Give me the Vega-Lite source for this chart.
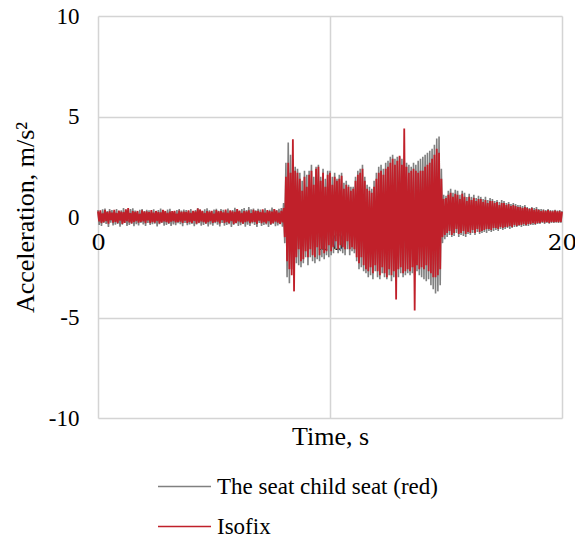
{
"$schema": "https://vega.github.io/schema/vega-lite/v6.json",
"width": 464, "height": 402,
"autosize": {"type": "none"},
"padding": {"left": 98, "top": 16, "right": 13, "bottom": 120},
"background": "white",
"config": {"view": {"stroke": null}, "font": "serif"},
"data": {"values": [
{"t":0,"g":0.35,"r":0.28},{"t":0.05,"g":-0.4,"r":-0.22},{"t":0.1,"g":0.25,"r":0.33},{"t":0.15,"g":-0.45,"r":-0.3},{"t":0.2,"g":0.38,"r":0.18},{"t":0.25,"g":-0.3,"r":-0.26},{"t":0.3,"g":0.42,"r":0.35},{"t":0.35,"g":-0.35,"r":-0.2},{"t":0.4,"g":0.3,"r":0.25},{"t":0.45,"g":-0.5,"r":-0.33},
{"t":0.5,"g":0.4,"r":0.3},{"t":0.55,"g":-0.28,"r":-0.15},{"t":0.6,"g":0.35,"r":0.22},{"t":0.65,"g":-0.42,"r":-0.28},{"t":0.7,"g":0.3,"r":0.36},{"t":0.75,"g":-0.38,"r":-0.24},{"t":0.8,"g":0.4,"r":0.2},{"t":0.85,"g":-0.35,"r":-0.3},{"t":0.9,"g":0.28,"r":0.32},{"t":0.95,"g":-0.48,"r":-0.18},
{"t":1,"g":0.33,"r":0.27},{"t":1.05,"g":-0.38,"r":-0.34},{"t":1.1,"g":0.45,"r":0.24},{"t":1.15,"g":-0.3,"r":-0.29},{"t":1.2,"g":0.36,"r":0.38},{"t":1.25,"g":-0.44,"r":-0.21},{"t":1.3,"g":0.3,"r":0.45},{"t":1.35,"g":-0.4,"r":-0.27},{"t":1.4,"g":0.39,"r":0.19},{"t":1.45,"g":-0.33,"r":-0.32},
{"t":1.5,"g":0.43,"r":0.29},{"t":1.55,"g":-0.46,"r":-0.25},{"t":1.6,"g":0.32,"r":0.26},{"t":1.65,"g":-0.36,"r":-0.2},{"t":1.7,"g":0.27,"r":0.3},{"t":1.75,"g":-0.42,"r":-0.28},{"t":1.8,"g":0.36,"r":0.16},{"t":1.85,"g":-0.3,"r":-0.24},{"t":1.9,"g":0.4,"r":0.33},{"t":1.95,"g":-0.37,"r":-0.22},
{"t":2,"g":0.3,"r":0.27},{"t":2.05,"g":-0.45,"r":-0.31},{"t":2.1,"g":0.36,"r":0.28},{"t":2.15,"g":-0.3,"r":-0.17},{"t":2.2,"g":0.33,"r":0.24},{"t":2.25,"g":-0.4,"r":-0.3},{"t":2.3,"g":0.28,"r":0.34},{"t":2.35,"g":-0.36,"r":-0.26},{"t":2.4,"g":0.38,"r":0.22},{"t":2.45,"g":-0.33,"r":-0.28},
{"t":2.5,"g":0.3,"r":0.3},{"t":2.55,"g":-0.47,"r":-0.2},{"t":2.6,"g":0.35,"r":0.25},{"t":2.65,"g":-0.36,"r":-0.32},{"t":2.7,"g":0.42,"r":0.23},{"t":2.75,"g":-0.29,"r":-0.27},{"t":2.8,"g":0.34,"r":0.36},{"t":2.85,"g":-0.43,"r":-0.22},{"t":2.9,"g":0.28,"r":0.3},{"t":2.95,"g":-0.39,"r":-0.25},
{"t":3,"g":0.37,"r":0.21},{"t":3.05,"g":-0.34,"r":-0.31},{"t":3.1,"g":0.41,"r":0.27},{"t":3.15,"g":-0.45,"r":-0.23},{"t":3.2,"g":0.3,"r":0.29},{"t":3.25,"g":-0.37,"r":-0.21},{"t":3.3,"g":0.26,"r":0.31},{"t":3.35,"g":-0.41,"r":-0.27},{"t":3.4,"g":0.35,"r":0.17},{"t":3.45,"g":-0.31,"r":-0.25},
{"t":3.5,"g":0.39,"r":0.32},{"t":3.55,"g":-0.36,"r":-0.23},{"t":3.6,"g":0.32,"r":0.26},{"t":3.65,"g":-0.46,"r":-0.3},{"t":3.7,"g":0.37,"r":0.27},{"t":3.75,"g":-0.29,"r":-0.18},{"t":3.8,"g":0.34,"r":0.25},{"t":3.85,"g":-0.41,"r":-0.29},{"t":3.9,"g":0.29,"r":0.33},{"t":3.95,"g":-0.37,"r":-0.25},
{"t":4,"g":0.4,"r":0.21},{"t":4.05,"g":-0.34,"r":-0.29},{"t":4.1,"g":0.3,"r":0.31},{"t":4.15,"g":-0.46,"r":-0.19},{"t":4.2,"g":0.35,"r":0.28},{"t":4.25,"g":-0.37,"r":-0.33},{"t":4.3,"g":0.44,"r":0.42},{"t":4.35,"g":-0.31,"r":-0.28},{"t":4.4,"g":0.37,"r":0.37},{"t":4.45,"g":-0.43,"r":-0.22},
{"t":4.5,"g":0.31,"r":0.3},{"t":4.55,"g":-0.39,"r":-0.26},{"t":4.6,"g":0.38,"r":0.2},{"t":4.65,"g":-0.34,"r":-0.32},{"t":4.7,"g":0.43,"r":0.3},{"t":4.75,"g":-0.47,"r":-0.26},{"t":4.8,"g":0.33,"r":0.27},{"t":4.85,"g":-0.37,"r":-0.21},{"t":4.9,"g":0.28,"r":0.31},{"t":4.95,"g":-0.43,"r":-0.29},
{"t":5,"g":0.37,"r":0.17},{"t":5.05,"g":-0.31,"r":-0.25},{"t":5.1,"g":0.41,"r":0.34},{"t":5.15,"g":-0.38,"r":-0.23},{"t":5.2,"g":0.31,"r":0.28},{"t":5.25,"g":-0.47,"r":-0.32},{"t":5.3,"g":0.39,"r":0.29},{"t":5.35,"g":-0.29,"r":-0.16},{"t":5.4,"g":0.36,"r":0.23},{"t":5.45,"g":-0.43,"r":-0.29},
{"t":5.5,"g":0.31,"r":0.37},{"t":5.55,"g":-0.39,"r":-0.25},{"t":5.6,"g":0.42,"r":0.21},{"t":5.65,"g":-0.36,"r":-0.31},{"t":5.7,"g":0.29,"r":0.33},{"t":5.75,"g":-0.49,"r":-0.2},{"t":5.8,"g":0.34,"r":0.28},{"t":5.85,"g":-0.39,"r":-0.35},{"t":5.9,"g":0.46,"r":0.26},{"t":5.95,"g":-0.32,"r":-0.3},
{"t":6,"g":0.38,"r":0.39},{"t":6.05,"g":-0.45,"r":-0.22},{"t":6.1,"g":0.32,"r":0.31},{"t":6.15,"g":-0.41,"r":-0.27},{"t":6.2,"g":0.4,"r":0.21},{"t":6.25,"g":-0.35,"r":-0.33},{"t":6.3,"g":0.44,"r":0.3},{"t":6.35,"g":-0.48,"r":-0.26},{"t":6.4,"g":0.34,"r":0.28},{"t":6.45,"g":-0.38,"r":-0.22},
{"t":6.5,"g":0.5,"r":0.33},{"t":6.55,"g":-0.44,"r":-0.3},{"t":6.6,"g":0.38,"r":0.19},{"t":6.65,"g":-0.32,"r":-0.26},{"t":6.7,"g":0.42,"r":0.36},{"t":6.75,"g":-0.39,"r":-0.24},{"t":6.8,"g":0.33,"r":0.29},{"t":6.85,"g":-0.5,"r":-0.35},{"t":6.9,"g":0.41,"r":0.31},{"t":6.95,"g":-0.3,"r":-0.18},
{"t":7,"g":0.37,"r":0.25},{"t":7.05,"g":-0.44,"r":-0.31},{"t":7.1,"g":0.32,"r":0.38},{"t":7.15,"g":-0.4,"r":-0.26},{"t":7.2,"g":0.43,"r":0.22},{"t":7.25,"g":-0.37,"r":-0.32},{"t":7.3,"g":0.31,"r":0.34},{"t":7.35,"g":-0.5,"r":-0.21},{"t":7.4,"g":0.36,"r":0.29},{"t":7.45,"g":-0.4,"r":-0.36},
{"t":7.5,"g":0.47,"r":0.27},{"t":7.55,"g":-0.33,"r":-0.31},{"t":7.6,"g":0.39,"r":0.4},{"t":7.65,"g":-0.46,"r":-0.23},{"t":7.7,"g":0.34,"r":0.32},{"t":7.75,"g":-0.42,"r":-0.28},{"t":7.8,"g":0.41,"r":0.22},{"t":7.85,"g":-0.36,"r":-0.34},{"t":7.9,"g":0.45,"r":0.31},{"t":7.95,"g":-0.48,"r":-0.27},
{"t":8,"g":0.7,"r":0.45},{"t":8.05,"g":-1.3,"r":-1.0},{"t":8.1,"g":2.7,"r":2.0},{"t":8.15,"g":-3.0,"r":-2.2},{"t":8.2,"g":3.7,"r":2.7},{"t":8.25,"g":-3.3,"r":-2.6},{"t":8.3,"g":3.1,"r":2.2},{"t":8.35,"g":-2.6,"r":-2.9},{"t":8.4,"g":2.9,"r":3.87},{"t":8.45,"g":-2.8,"r":-3.7},
{"t":8.5,"g":2.5,"r":2.3},{"t":8.55,"g":-2.3,"r":-2.0},{"t":8.6,"g":2.4,"r":2.2},{"t":8.65,"g":-2.4,"r":-1.6},{"t":8.7,"g":2.2,"r":1.9},{"t":8.75,"g":-2.5,"r":-2.2},{"t":8.8,"g":1.8,"r":1.3},{"t":8.85,"g":-2.3,"r":-2.1},{"t":8.9,"g":2.3,"r":2.0},{"t":8.95,"g":-2.0,"r":-1.7},
{"t":9,"g":2.1,"r":1.5},{"t":9.05,"g":-2.4,"r":-2.0},{"t":9.1,"g":2.3,"r":2.1},{"t":9.15,"g":-2.0,"r":-1.6},{"t":9.2,"g":2.6,"r":2.3},{"t":9.25,"g":-2.2,"r":-1.9},{"t":9.3,"g":2.0,"r":1.6},{"t":9.35,"g":-2.3,"r":-2.0},{"t":9.4,"g":2.5,"r":2.4},{"t":9.45,"g":-2.1,"r":-1.5},
{"t":9.5,"g":2.6,"r":2.5},{"t":9.55,"g":-2.2,"r":-1.9},{"t":9.6,"g":2.0,"r":1.8},{"t":9.65,"g":-2.0,"r":-1.6},{"t":9.7,"g":2.4,"r":2.2},{"t":9.75,"g":-2.1,"r":-1.8},{"t":9.8,"g":1.9,"r":1.5},{"t":9.85,"g":-1.9,"r":-1.7},{"t":9.9,"g":2.3,"r":2.1},{"t":9.95,"g":-2.0,"r":-1.4},
{"t":10,"g":2.3,"r":2.2},{"t":10.05,"g":-1.9,"r":-1.7},{"t":10.1,"g":2.0,"r":1.6},{"t":10.15,"g":-1.8,"r":-1.5},{"t":10.2,"g":2.2,"r":2.0},{"t":10.25,"g":-1.6,"r":-1.2},{"t":10.3,"g":1.9,"r":1.8},{"t":10.35,"g":-1.8,"r":-1.6},{"t":10.4,"g":2.1,"r":1.9},{"t":10.45,"g":-1.7,"r":-1.4},
{"t":10.5,"g":2.2,"r":2.05},{"t":10.55,"g":-1.8,"r":-1.5},{"t":10.6,"g":1.7,"r":1.4},{"t":10.65,"g":-1.9,"r":-1.6},{"t":10.7,"g":1.8,"r":1.6},{"t":10.75,"g":-1.6,"r":-1.2},{"t":10.8,"g":1.6,"r":1.5},{"t":10.85,"g":-1.9,"r":-1.6},{"t":10.9,"g":1.5,"r":1.3},{"t":10.95,"g":-1.7,"r":-1.5},
{"t":11,"g":1.5,"r":1.4},{"t":11.05,"g":-1.8,"r":-1.6},{"t":11.1,"g":2.0,"r":1.8},{"t":11.15,"g":-2.2,"r":-2.0},{"t":11.2,"g":2.3,"r":2.1},{"t":11.25,"g":-2.6,"r":-2.3},{"t":11.3,"g":2.4,"r":2.2},{"t":11.35,"g":-2.5,"r":-2.0},{"t":11.4,"g":2.6,"r":2.4},{"t":11.45,"g":-2.7,"r":-2.4},
{"t":11.5,"g":2.0,"r":1.8},{"t":11.55,"g":-2.8,"r":-2.6},{"t":11.6,"g":1.6,"r":1.4},{"t":11.65,"g":-3.0,"r":-2.7},{"t":11.7,"g":1.5,"r":1.3},{"t":11.75,"g":-2.9,"r":-2.5},{"t":11.8,"g":1.4,"r":1.2},{"t":11.85,"g":-3.1,"r":-2.8},{"t":11.9,"g":1.8,"r":1.5},{"t":11.95,"g":-2.7,"r":-2.4},
{"t":12,"g":2.2,"r":1.9},{"t":12.05,"g":-3.0,"r":-2.7},{"t":12.1,"g":2.5,"r":2.2},{"t":12.15,"g":-3.1,"r":-2.9},{"t":12.2,"g":2.6,"r":2.3},{"t":12.25,"g":-2.8,"r":-2.5},{"t":12.3,"g":2.4,"r":2.1},{"t":12.35,"g":-3.0,"r":-2.8},{"t":12.4,"g":2.7,"r":2.4},{"t":12.45,"g":-3.1,"r":-3.0},
{"t":12.5,"g":2.8,"r":2.5},{"t":12.55,"g":-2.9,"r":-2.6},{"t":12.6,"g":3.0,"r":2.7},{"t":12.65,"g":-3.2,"r":-2.9},{"t":12.7,"g":3.1,"r":2.9},{"t":12.75,"g":-3.0,"r":-2.7},{"t":12.8,"g":2.9,"r":2.6},{"t":12.85,"g":-3.2,"r":-4.1},{"t":12.9,"g":3.0,"r":2.8},{"t":12.95,"g":-3.0,"r":-2.6},
{"t":13,"g":3.0,"r":3.05},{"t":13.05,"g":-2.8,"r":-2.5},{"t":13.1,"g":2.9,"r":2.6},{"t":13.15,"g":-3.0,"r":-2.8},{"t":13.2,"g":2.8,"r":4.4},{"t":13.25,"g":-2.9,"r":-2.7},{"t":13.3,"g":2.7,"r":2.5},{"t":13.35,"g":-2.8,"r":-2.6},{"t":13.4,"g":2.6,"r":2.2},{"t":13.45,"g":-2.9,"r":-2.7},
{"t":13.5,"g":2.5,"r":2.3},{"t":13.55,"g":-2.8,"r":-2.5},{"t":13.6,"g":2.7,"r":2.4},{"t":13.65,"g":-2.9,"r":-4.65},{"t":13.7,"g":2.6,"r":2.3},{"t":13.75,"g":-2.7,"r":-2.4},{"t":13.8,"g":2.8,"r":2.2},{"t":13.85,"g":-2.9,"r":-2.6},{"t":13.9,"g":2.9,"r":2.3},{"t":13.95,"g":-3.0,"r":-2.5},
{"t":14,"g":3.0,"r":2.3},{"t":14.05,"g":-3.1,"r":-2.6},{"t":14.1,"g":3.1,"r":2.5},{"t":14.15,"g":-3.2,"r":-2.4},{"t":14.2,"g":3.2,"r":2.6},{"t":14.25,"g":-3.1,"r":-2.7},{"t":14.3,"g":3.3,"r":2.7},{"t":14.35,"g":-3.4,"r":-2.8},{"t":14.4,"g":3.4,"r":2.9},{"t":14.45,"g":-3.6,"r":-3.0},
{"t":14.5,"g":3.6,"r":3.1},{"t":14.55,"g":-3.8,"r":-3.0},{"t":14.6,"g":3.9,"r":3.4},{"t":14.65,"g":-3.7,"r":-2.9},{"t":14.7,"g":4.0,"r":3.2},{"t":14.75,"g":-3.4,"r":-2.6},{"t":14.8,"g":2.4,"r":1.9},{"t":14.85,"g":-1.3,"r":-1.0},{"t":14.9,"g":1.1,"r":0.9},{"t":14.95,"g":-1.1,"r":-0.9},
{"t":15,"g":1.05,"r":0.95},{"t":15.05,"g":-1.0,"r":-0.8},{"t":15.1,"g":1.3,"r":1.1},{"t":15.15,"g":-0.9,"r":-0.7},{"t":15.2,"g":1.4,"r":1.2},{"t":15.25,"g":-1.0,"r":-0.9},{"t":15.3,"g":1.2,"r":1.0},{"t":15.35,"g":-0.95,"r":-0.8},{"t":15.4,"g":1.35,"r":1.15},{"t":15.45,"g":-0.8,"r":-0.6},
{"t":15.5,"g":1.3,"r":1.1},{"t":15.55,"g":-1.0,"r":-0.85},{"t":15.6,"g":1.1,"r":0.9},{"t":15.65,"g":-0.9,"r":-0.8},{"t":15.7,"g":1.3,"r":1.15},{"t":15.75,"g":-0.95,"r":-0.7},{"t":15.8,"g":1.2,"r":1.0},{"t":15.85,"g":-1.0,"r":-0.85},{"t":15.9,"g":1.0,"r":0.8},{"t":15.95,"g":-0.85,"r":-0.75},
{"t":16,"g":1.15,"r":1.0},{"t":16.05,"g":-0.9,"r":-0.8},{"t":16.1,"g":1.0,"r":0.85},{"t":16.15,"g":-0.8,"r":-0.65},{"t":16.2,"g":1.1,"r":0.95},{"t":16.25,"g":-0.9,"r":-0.8},{"t":16.3,"g":0.95,"r":0.8},{"t":16.35,"g":-0.75,"r":-0.6},{"t":16.4,"g":1.05,"r":0.9},{"t":16.45,"g":-0.85,"r":-0.75},
{"t":16.5,"g":1.0,"r":0.9},{"t":16.55,"g":-0.8,"r":-0.7},{"t":16.6,"g":0.9,"r":0.75},{"t":16.65,"g":-0.75,"r":-0.65},{"t":16.7,"g":1.0,"r":0.85},{"t":16.75,"g":-0.8,"r":-0.6},{"t":16.8,"g":0.85,"r":0.7},{"t":16.85,"g":-0.7,"r":-0.6},{"t":16.9,"g":0.95,"r":0.8},{"t":16.95,"g":-0.75,"r":-0.65},
{"t":17,"g":0.9,"r":0.8},{"t":17.05,"g":-0.7,"r":-0.55},{"t":17.1,"g":0.8,"r":0.7},{"t":17.15,"g":-0.65,"r":-0.55},{"t":17.2,"g":0.85,"r":0.75},{"t":17.25,"g":-0.7,"r":-0.6},{"t":17.3,"g":0.75,"r":0.6},{"t":17.35,"g":-0.6,"r":-0.5},{"t":17.4,"g":0.85,"r":0.7},{"t":17.45,"g":-0.65,"r":-0.55},
{"t":17.5,"g":0.8,"r":0.7},{"t":17.55,"g":-0.6,"r":-0.5},{"t":17.6,"g":0.7,"r":0.6},{"t":17.65,"g":-0.55,"r":-0.5},{"t":17.7,"g":0.75,"r":0.65},{"t":17.75,"g":-0.6,"r":-0.45},{"t":17.8,"g":0.65,"r":0.55},{"t":17.85,"g":-0.55,"r":-0.5},{"t":17.9,"g":0.7,"r":0.6},{"t":17.95,"g":-0.5,"r":-0.4},
{"t":18,"g":0.65,"r":0.55},{"t":18.05,"g":-0.5,"r":-0.45},{"t":18.1,"g":0.6,"r":0.5},{"t":18.15,"g":-0.45,"r":-0.4},{"t":18.2,"g":0.6,"r":0.5},{"t":18.25,"g":-0.5,"r":-0.4},{"t":18.3,"g":0.55,"r":0.45},{"t":18.35,"g":-0.45,"r":-0.35},{"t":18.4,"g":0.6,"r":0.5},{"t":18.45,"g":-0.45,"r":-0.4},
{"t":18.5,"g":0.5,"r":0.45},{"t":18.55,"g":-0.45,"r":-0.35},{"t":18.6,"g":0.45,"r":0.4},{"t":18.65,"g":-0.4,"r":-0.35},{"t":18.7,"g":0.5,"r":0.45},{"t":18.75,"g":-0.4,"r":-0.3},{"t":18.8,"g":0.45,"r":0.35},{"t":18.85,"g":-0.4,"r":-0.35},{"t":18.9,"g":0.5,"r":0.4},{"t":18.95,"g":-0.35,"r":-0.3},
{"t":19,"g":0.4,"r":0.35},{"t":19.05,"g":-0.35,"r":-0.3},{"t":19.1,"g":0.4,"r":0.3},{"t":19.15,"g":-0.3,"r":-0.25},{"t":19.2,"g":0.38,"r":0.33},{"t":19.25,"g":-0.35,"r":-0.28},{"t":19.3,"g":0.35,"r":0.3},{"t":19.35,"g":-0.3,"r":-0.25},{"t":19.4,"g":0.4,"r":0.35},{"t":19.45,"g":-0.33,"r":-0.3},
{"t":19.5,"g":0.35,"r":0.3},{"t":19.55,"g":-0.3,"r":-0.25},{"t":19.6,"g":0.33,"r":0.28},{"t":19.65,"g":-0.3,"r":-0.26},{"t":19.7,"g":0.36,"r":0.32},{"t":19.75,"g":-0.28,"r":-0.24},{"t":19.8,"g":0.32,"r":0.28},{"t":19.85,"g":-0.3,"r":-0.26},{"t":19.9,"g":0.35,"r":0.3},{"t":19.95,"g":-0.28,"r":-0.25},
{"t":20,"g":0.3,"r":0.26}
]},
"encoding": {
  "x": {"field": "t", "type": "quantitative", "scale": {"domain": [0, 20], "nice": false},
    "axis": {"values": [0, 10, 20], "grid": true, "gridColor": "#d4d4d4", "gridWidth": 1.5, "domain": false, "ticks": false,
      "offset": -201, "labelPadding": 14, "labelFlush": false, "labelFont": "DejaVu Serif", "labelFontSize": 23, "labelColor": "black",
      "title": "Time, s", "titleFont": "Times New Roman", "titleFontSize": 26, "titleFontWeight": "normal", "titleColor": "black", "titleY": 206}}
},
"layer": [
  {"mark": {"type": "line", "strokeWidth": 1.6, "interpolate": "linear"},
   "encoding": {
     "y": {"field": "g", "type": "quantitative", "scale": {"domain": [-10, 10], "nice": false},
       "axis": {"values": [-10, -5, 0, 5, 10], "grid": true, "gridColor": "#d4d4d4", "gridWidth": 1.5, "domain": false, "ticks": false,
         "labelExpr": "datum.value < 0 ? '-' + abs(datum.value) : '' + datum.value",
         "labelPadding": 19, "labelFont": "'Liberation Serif'", "labelFontSize": 23, "labelColor": "black",
         "title": "Acceleration, m/s²", "titleFont": "serif", "titleFontSize": 26, "titleFontWeight": "normal", "titleColor": "black", "titleX": -60}},
     "color": {"datum": "The seat child seat (red)", "type": "nominal",
       "scale": {"domain": ["The seat child seat (red)", "Isofix"], "range": ["#808080", "#c0202a"]},
       "legend": {"orient": "none", "legendX": 59, "legendY": 443, "title": null, "padding": 0,
         "labelFont": "Liberation Serif", "labelFontSize": 23, "labelColor": "black", "labelOffset": 5, "labelLimit": 500,
         "symbolType": "stroke", "symbolSize": 2809, "symbolStrokeWidth": 1.5, "rowPadding": 0}}
   }},
  {"mark": {"type": "line", "strokeWidth": 1.8, "interpolate": "linear"},
   "encoding": {
     "y": {"field": "r", "type": "quantitative", "scale": {"domain": [-10, 10], "nice": false},
       "axis": {"values": [-10, -5, 0, 5, 10], "grid": true, "gridColor": "#d4d4d4", "gridWidth": 1.5, "domain": false, "ticks": false,
         "labelExpr": "datum.value < 0 ? '-' + abs(datum.value) : '' + datum.value",
         "labelPadding": 19, "labelFont": "'Liberation Serif'", "labelFontSize": 23, "labelColor": "black",
         "title": "Acceleration, m/s²", "titleFont": "serif", "titleFontSize": 26, "titleFontWeight": "normal", "titleColor": "black", "titleX": -60}},
     "color": {"datum": "Isofix", "type": "nominal"}
   }}
]
}
